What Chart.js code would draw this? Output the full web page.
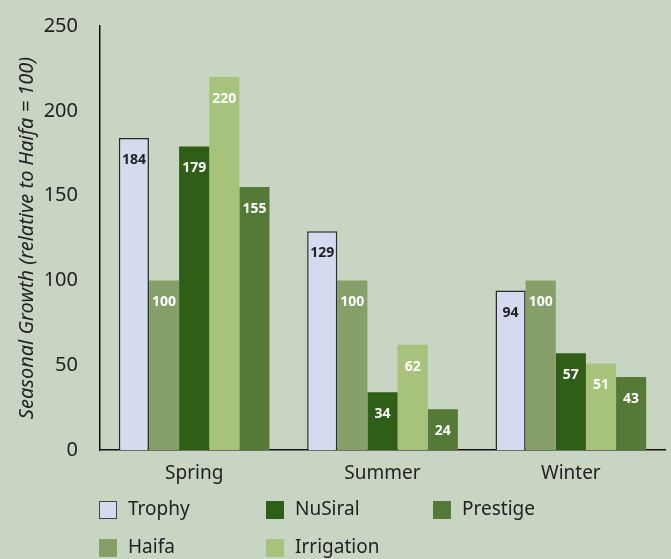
<!DOCTYPE html>
<html>
<head>
<meta charset="utf-8">
<script src="https://cdn.jsdelivr.net/npm/chart.js@4"></script>
<style>
  html, body { margin: 0; padding: 0; background: #c8d5c3; }
  #wrap { width: 671px; height: 559px; }
</style>
</head>
<body>
<div id="wrap"><canvas id="growth" width="671" height="559"></canvas></div>
<script>
// data
const seasons = ['Spring', 'Summer', 'Winter'];
const trophy = [184, 129, 94];
const haifa = [100, 100, 100];
const nusiral = [179, 34, 57];
const irrigation = [220, 62, 51];
const prestige = [155, 24, 43];
const yTicks = [0, 50, 100, 150, 200, 250];
// legend reads across: Trophy, NuSiral, Prestige / Haifa, Irrigation
const legendOrder = ['Trophy', 'NuSiral', 'Prestige', 'Haifa', 'Irrigation'];

const FONT = "'Noto Sans', 'DejaVu Sans', sans-serif";

// value labels inside the top of each bar
const barLabels = {
  id: 'barLabels',
  afterDatasetsDraw(chart) {
    const ctx = chart.ctx;
    ctx.save();
    ctx.font = 'bold 14px ' + FONT;
    ctx.textAlign = 'center';
    ctx.textBaseline = 'middle';
    chart.data.datasets.forEach((ds, i) => {
      const meta = chart.getDatasetMeta(i);
      meta.data.forEach((bar, j) => {
        ctx.fillStyle = ds.labelColor;
        ctx.fillText(ds.data[j], bar.x, bar.y + 22);
      });
    });
    ctx.restore();
  }
};

// two row legend laid out in fixed columns
const gridLegend = {
  id: 'gridLegend',
  afterDraw(chart) {
    const ctx = chart.ctx;
    const cols = [99, 266, 433];
    const rows = [510, 548];
    ctx.save();
    ctx.font = '19px ' + FONT;
    ctx.textBaseline = 'middle';
    legendOrder.forEach((name, k) => {
      const ds = chart.data.datasets.find(d => d.label === name);
      const x = cols[k % 3];
      const y = rows[Math.floor(k / 3)];
      ctx.fillStyle = ds.backgroundColor;
      ctx.fillRect(x, y - 9, 18, 18);
      if (ds.borderWidth) {
        ctx.strokeStyle = '#444';
        ctx.lineWidth = 1;
        ctx.strokeRect(x + 0.5, y - 8.5, 17, 17);
      }
      ctx.fillStyle = '#222';
      ctx.fillText(ds.label, x + 29, y);
    });
    ctx.restore();
  }
};

const ctx = document.getElementById('growth').getContext('2d');
const growthChart = new Chart(ctx, {
  type: 'bar',
  data: {
    labels: seasons,
    datasets: [
      { label: 'Trophy', data: trophy, backgroundColor: '#d5dbee', borderColor: '#2a2a2a', borderWidth: 1.5, labelColor: '#222' },
      { label: 'Haifa', data: haifa, backgroundColor: '#87a06a', borderWidth: 0, labelColor: '#fff' },
      { label: 'NuSiral', data: nusiral, backgroundColor: '#2f5e16', borderWidth: 0, labelColor: '#fff' },
      { label: 'Irrigation', data: irrigation, backgroundColor: '#a7c27a', borderWidth: 0, labelColor: '#fff' },
      { label: 'Prestige', data: prestige, backgroundColor: '#557a37', borderWidth: 0, labelColor: '#fff' }
    ]
  },
  options: {
    responsive: false,
    animation: false,
    layout: { padding: { top: 23, right: 6, bottom: 70, left: 0 } },
    datasets: { bar: { categoryPercentage: 0.8, barPercentage: 1.0 } },
    plugins: { legend: { display: false }, tooltip: { enabled: false } },
    scales: {
      x: {
        grid: { display: false },
        border: { display: true, color: '#111', width: 1.5 },
        ticks: { color: '#222', font: { family: FONT, size: 19 }, padding: 4 },
        afterFit(scale) { scale.height = 39; }
      },
      y: {
        min: 0, max: 250,
        afterBuildTicks(scale) { scale.ticks = yTicks.map(v => ({ value: v })); },
        grid: { display: false },
        border: { display: true, color: '#111', width: 1.5 },
        ticks: { color: '#222', font: { family: FONT, size: 20 }, padding: 14 },
        title: {
          display: true,
          text: 'Seasonal Growth (relative to Haifa = 100)',
          color: '#222',
          font: { family: FONT, size: 20, style: 'italic' },
          padding: { top: 15, bottom: 4 }
        },
        afterFit(scale) { scale.width = 100; }
      }
    }
  },
  plugins: [barLabels, gridLegend]
});
</script>
</body>
</html>
